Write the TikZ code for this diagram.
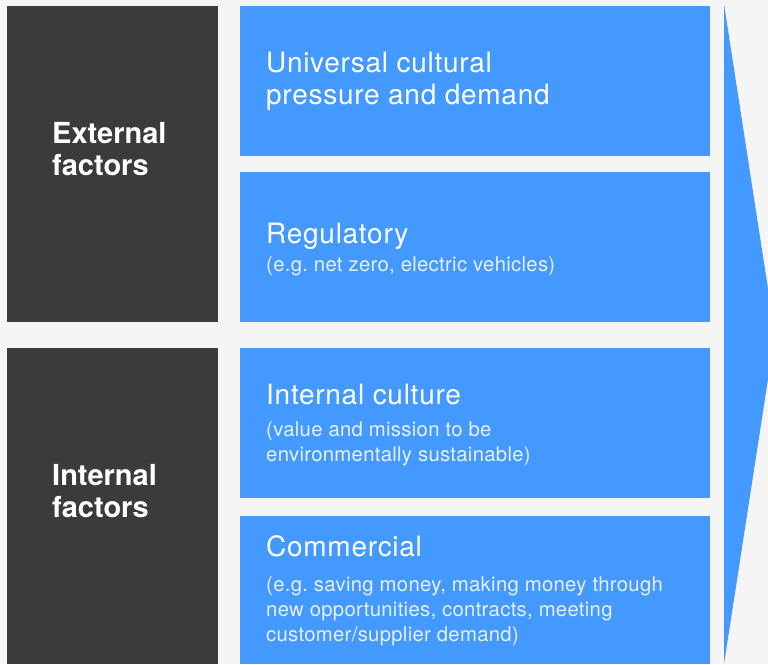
\documentclass[tikz,border=0pt]{standalone}
\usepackage{fontspec}
\setmainfont{TeX Gyre Heros}
\newfontfamily\headfont[LetterSpace=2.6]{TeX Gyre Heros}
\newfontfamily\subfont[LetterSpace=1.5]{TeX Gyre Heros}
\definecolor{bgc}{HTML}{F5F5F5}
\definecolor{darkc}{HTML}{3D3B39}
\definecolor{bluec}{HTML}{4499FF}
\definecolor{subc}{HTML}{E6F0FF}
\frenchspacing
\begin{document}
\begin{tikzpicture}[x=1pt,y=-1pt,
  darkbox/.style={fill=darkc,draw=none},
  bluebox/.style={fill=bluec,draw=none},
  side/.style={anchor=base west,inner sep=0pt,text=white,font=\fontsize{29}{32}\selectfont\bfseries,align=left},
  head/.style={anchor=base west,inner sep=0pt,text=white,font=\headfont\fontsize{28}{32}\selectfont,align=left},
  sub/.style={anchor=base west,inner sep=0pt,text=subc,font=\subfont\fontsize{20.3}{25}\selectfont,align=left}]
\fill[bgc] (0,0) rectangle (768,664);
\useasboundingbox (0,0) rectangle (768,664);
% arrow
\fill[bluec] (724,4) -- (775,334) -- (724,664) -- cycle;
% dark boxes
\path[darkbox] (7,6) rectangle (218,322);
\path[darkbox] (7,348) rectangle (218,664);
% blue boxes
\path[bluebox] (240,6) rectangle (710,156);
\path[bluebox] (240,172) rectangle (710,322);
\path[bluebox] (240,348) rectangle (710,498);
\path[bluebox] (240,516) rectangle (710,664);
% side labels (anchor = baseline of last line)
\node[side] (ext) at (52,175) {External\\factors};
\node[side] (int) at (52,517) {Internal\\factors};
% headings
\node[head] (h1) at (266,104.3) {Universal cultural\\pressure and demand};
\node[head] (h2) at (266,243.3) {Regulatory};
\node[sub] (s2) at (266,271.5) {(e.g. net zero, electric vehicles)};
\node[head] (h3) at (266,404.3) {Internal culture};
\node[sub] (s3) at (266,461) {(value and mission to be\\environmentally sustainable)};
\node[head] (h4) at (266,556) {Commercial};
\node[sub] (s4) at (266,641.7) {(e.g. saving money, making money through\\new opportunities, contracts, meeting\\customer/supplier demand)};
\end{tikzpicture}
\end{document}
